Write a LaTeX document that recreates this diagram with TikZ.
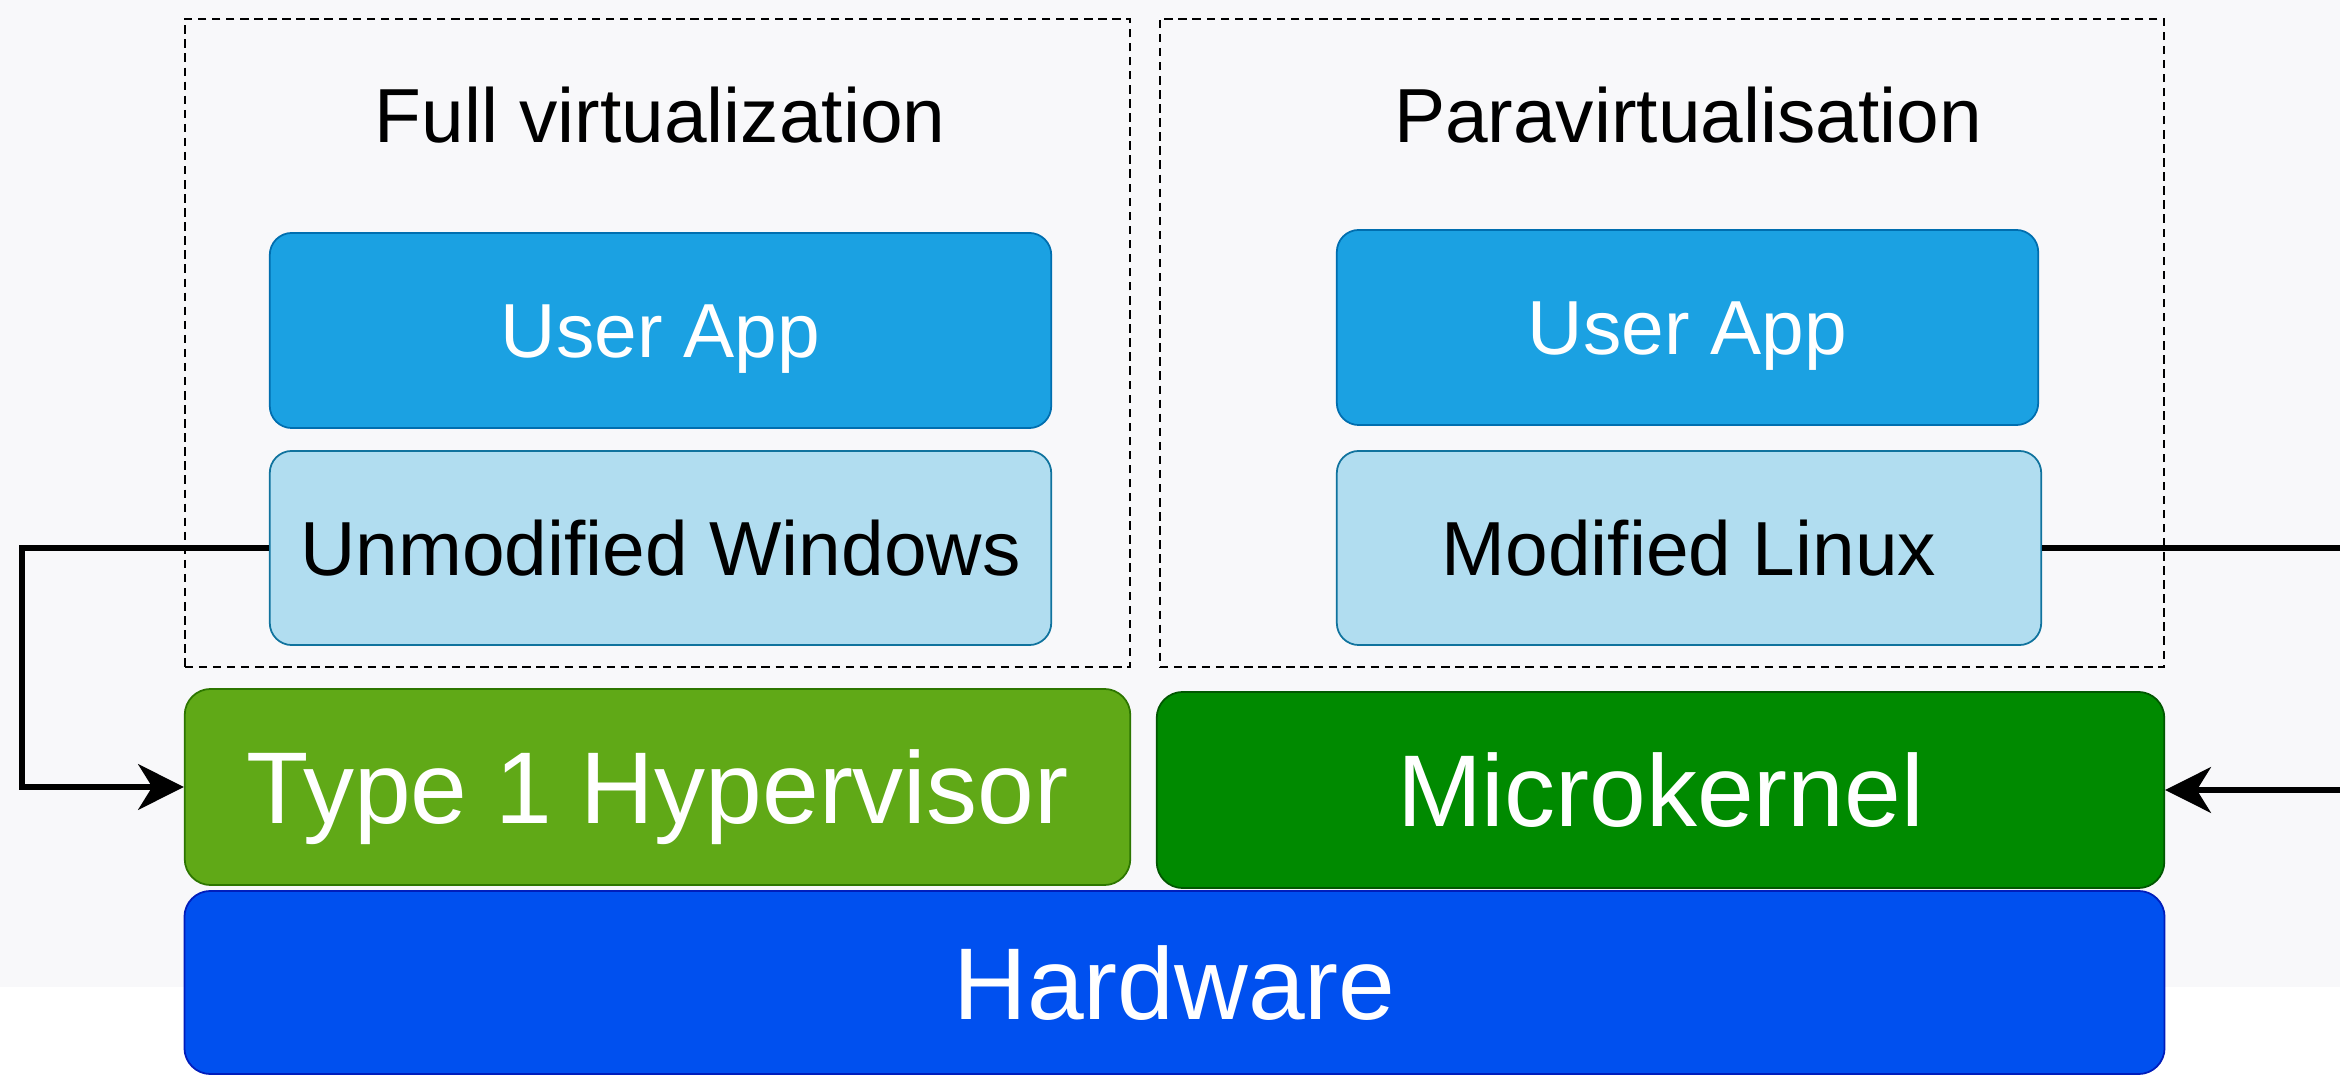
\documentclass[tikz,border=0pt]{standalone}
\usepackage{fontspec}
\setmainfont{Liberation Sans}
\usetikzlibrary{arrows.meta}
\definecolor{bgcol}{HTML}{F8F8FA}
\definecolor{appfill}{HTML}{1BA1E2}
\definecolor{appline}{HTML}{006EAF}
\definecolor{osfill}{HTML}{B1DDF0}
\definecolor{osline}{HTML}{10739E}
\definecolor{hypfill}{HTML}{60A917}
\definecolor{hypline}{HTML}{2D7600}
\definecolor{kernfill}{HTML}{008A00}
\definecolor{kernline}{HTML}{005700}
\definecolor{hwfill}{HTML}{0050EF}
\definecolor{hwline}{HTML}{001DBC}
\newcommand{\smalltext}{\fontsize{21.8}{26}\selectfont}
\newcommand{\bigtext}{\fontsize{29}{34}\selectfont}

\begin{document}
\begin{tikzpicture}[x=0.01cm, y=-0.01cm,
    group/.style={draw=black, dash pattern=on 2.4pt off 1.6pt, line width=0.5pt, inner sep=0pt},
    title/.style={font=\smalltext, inner sep=0pt},
    layer/.style={rectangle, rounded corners=0.22cm, line width=0.5pt, inner sep=0pt,
        text height=15.6pt, text depth=0pt},
    appbox/.style={layer, fill=appfill, draw=appline, text=white, font=\smalltext,
        minimum height=1.95cm},
    osbox/.style={layer, fill=osfill, draw=osline, text=black, font=\smalltext,
        minimum height=1.94cm},
    base/.style={layer, rounded corners=0.26cm, text=white, font=\bigtext,
        text height=20.8pt},
    conn/.style={line width=1.5pt, -{Stealth[length=13pt, width=13pt, inset=4pt]}}]
    \useasboundingbox (0,0) rectangle (2340,1077);
    \fill[white] (0,0) rectangle (2340,1077);
    \fill[bgcol] (0,0) rectangle (2340,987);
    %%%%%%%%%%%%%%%%%%%%%%%%%%%%%%%%
    \node[group, minimum width=9.45cm, minimum height=6.48cm] (fullbox) at (657.5,343){};
    \node[group, minimum width=10.04cm, minimum height=6.48cm] (parabox) at (1662,343){};
    \node[title] (fulltitle) at (660,115){Full virtualization};
    \node[title] (paratitle) at (1688,115){Paravirtualisation};
    %%%%%%%%%%%%%%%%%%%%%%%%%%%%%%%%
    \node[appbox, minimum width=7.81cm] (appL) at (660.5,330.5){User App};
    \node[osbox, minimum width=7.81cm] (winL) at (660.5,548){Unmodified Windows};
    \node[appbox, minimum width=7.01cm] (appR) at (1687.5,327.5){User App};
    \node[osbox, minimum width=7.04cm] (linR) at (1689,548){Modified Linux};
    %%%%%%%%%%%%%%%%%%%%%%%%%%%%%%%%
    \node[base, fill=hypfill, draw=hypline, minimum width=9.45cm, minimum height=1.96cm] (hyp) at (657.5,787){Type 1 Hypervisor};
    \node[base, fill=kernfill, draw=kernline, minimum width=10.07cm, minimum height=1.96cm] (micro) at (1660.5,790){Microkernel};
    \node[base, fill=hwfill, draw=hwline, minimum width=19.79cm, minimum height=1.83cm] (hw) at (1174.5,982.5){Hardware};
    %%%%%%%%%%%%%%%%%%%%%%%%%%%%%%%%
    \coordinate (lside) at (22,0);
    \coordinate (rside) at (2420,0);
    \draw[conn] (winL.west) -| (lside |- hyp.west) -- (hyp.west);
    \draw[conn] (linR.east) -| (rside |- micro.east) -- (micro.east);
\end{tikzpicture}
\end{document}
